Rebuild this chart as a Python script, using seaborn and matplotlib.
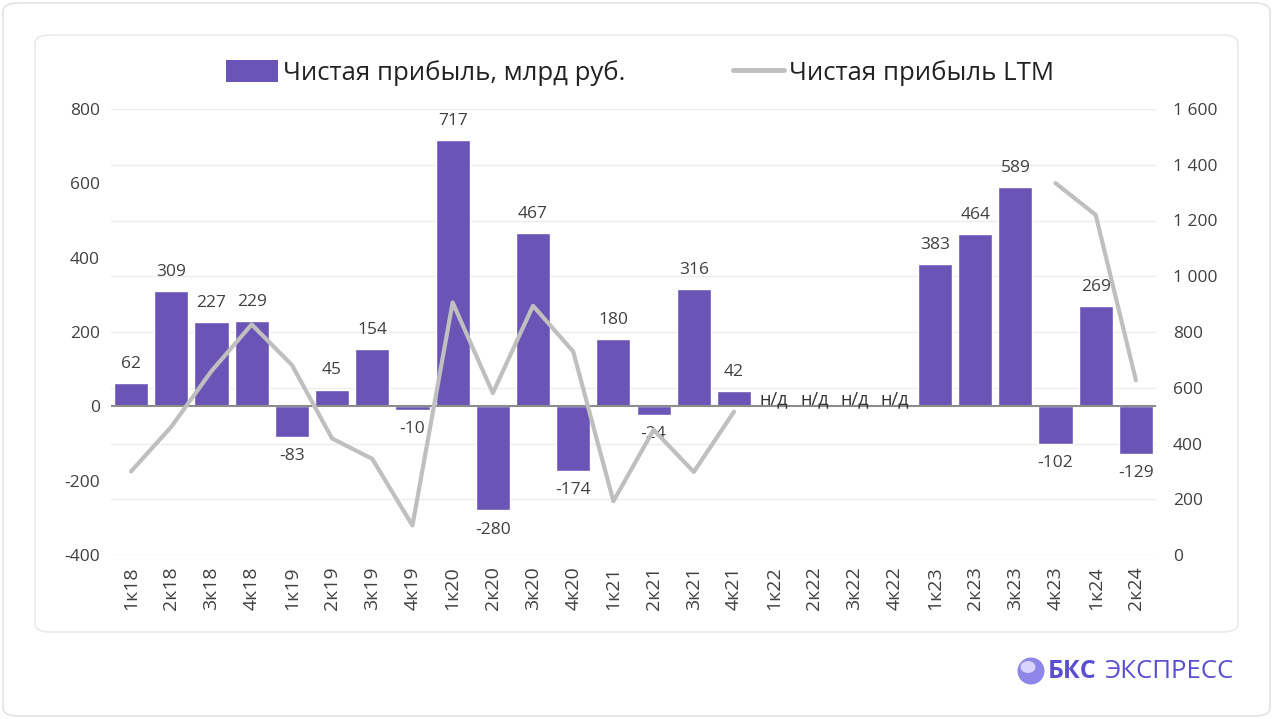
"""
Чистая прибыль: квартальная и LTM
"""

import numpy as np
import pandas as pd
import matplotlib
matplotlib.use("Agg")
import matplotlib.pyplot as plt
from matplotlib.patches import FancyBboxPatch, Ellipse
from matplotlib.lines import Line2D
from matplotlib.patches import Patch
import seaborn as sns


## DATA
quarters = ["1к18", "2к18", "3к18", "4к18", "1к19", "2к19", "3к19", "4к19",
            "1к20", "2к20", "3к20", "4к20", "1к21", "2к21", "3к21", "4к21",
            "1к22", "2к22", "3к22", "4к22", "1к23", "2к23", "3к23", "4к23",
            "1к24", "2к24"]
profit = [62, 309, 227, 229, -83, 45, 154, -10,
          717, -280, 467, -174, 180, -24, 316, 42,
          np.nan, np.nan, np.nan, np.nan, 383, 464, 589, -102,
          269, -129]
ltm = [300, 460, 660, 827, 682, 418, 345, 106,
       906, 581, 894, 730, 193, 449, 298, 514,
       np.nan, np.nan, np.nan, np.nan, np.nan, np.nan, np.nan, 1334,
       1220, 627]
left_ticks = [-400, -200, 0, 200, 400, 600, 800]
right_ticks = [0, 200, 400, 600, 800, 1000, 1200, 1400, 1600]

BAR = "#6A55B6"
LINE = "#BFBFBF"
TXT = "#404040"
FONT = ["Open Sans", "DejaVu Sans"]
W, H = 1273, 719


def fmt_space(v):
  return f"{v:,}".replace(",", " ")


def main():
  sns.set_style("white")
  plt.rcParams["font.family"] = FONT

  df = pd.DataFrame({"q": quarters, "profit": profit, "ltm": ltm})
  df["pos"] = np.arange(len(df))

  fig = plt.figure(figsize=(W / 100, H / 100), dpi=100)

  # background cards
  fig.patches.append(FancyBboxPatch((3 / W, 3 / H), 1267 / W, 713 / H,
                                    boxstyle="round,pad=0,rounding_size=0.012",
                                    transform=fig.transFigure, fc="white", ec="#E3E3E3", lw=1.2, zorder=-2))
  fig.patches.append(FancyBboxPatch((35 / W, 87 / H), 1203 / W, 597 / H,
                                    boxstyle="round,pad=0,rounding_size=0.012",
                                    transform=fig.transFigure, fc="white", ec="#EAEAEA", lw=1.2, zorder=-1))

  ax = fig.add_axes([111 / W, 1 - 555 / H, 1045 / W, 446 / H])
  ax.patch.set_alpha(0)

  sns.barplot(data=df, x="pos", y="profit", color=BAR, width=0.85,
              saturation=1, ax=ax, order=list(df["pos"]), zorder=3)

  ax.axhline(0, color="#8C8C8C", lw=1.5, zorder=4)
  ax.set_ylim(-400, 800)
  ax.set_yticks(left_ticks)
  ax.set_yticklabels([str(t) for t in left_ticks], fontsize=12.5, color=TXT)
  ax.set_xlim(-0.5, len(df) - 0.5)
  ax.set_xticks(df["pos"])
  ax.set_xticklabels(quarters, rotation=90, fontsize=14, color=TXT)
  ax.set_xlabel("")
  ax.set_ylabel("")
  ax.tick_params(axis="both", length=0, pad=8)
  for s in ax.spines.values():
    s.set_visible(False)

  # bar labels
  for p, v in zip(df["pos"], df["profit"]):
    if np.isnan(v):
      ax.text(p, 20, "н/д", ha="center", va="center", fontsize=13, color="#333333", zorder=5)
    elif v >= 0:
      ax.annotate(f"{int(v)}", (p, v), xytext=(0, 8), textcoords="offset points",
                  ha="center", va="bottom", fontsize=12.5, color=TXT)
    else:
      ax.annotate(f"{int(v)}", (p, v), xytext=(0, -8), textcoords="offset points",
                  ha="center", va="top", fontsize=12.5, color=TXT)

  # LTM on secondary axis
  ax2 = ax.twinx()
  df["seg"] = df["ltm"].isna().cumsum()
  line_df = df.dropna(subset=["ltm"])
  sns.lineplot(data=line_df, x="pos", y="ltm", units="seg", estimator=None,
               color=LINE, lw=3, ax=ax2, zorder=6)
  ax2.set_ylim(0, 1600)
  ax2.set_yticks(right_ticks)
  ax2.set_yticklabels([fmt_space(t) for t in right_ticks], fontsize=12.5, color=TXT)
  ax2.set_ylabel("")
  ax2.tick_params(axis="y", length=0, pad=12)
  for s in ax2.spines.values():
    s.set_visible(False)
  for t in right_ticks:
    ax.axhline(-400 + t * 1200 / 1600, color="#EDEDED", lw=1, zorder=0)
  ax.set_xlim(-0.5, len(df) - 0.5)

  # legend
  handles = [Patch(facecolor=BAR, edgecolor="none"),
             Line2D([0], [0], color=LINE, lw=3.5)]
  fig.legend(handles, ["Чистая прибыль, млрд руб.", "Чистая прибыль LTM"],
             loc="center", bbox_to_anchor=(0.503, 1 - 73 / H), ncol=2, frameon=False,
             fontsize=18.5, columnspacing=4.2, handlelength=2.0, handleheight=0.9,
             handletextpad=0.2, labelcolor="#222222")

  # logo
  fig.patches.append(Ellipse((1031 / W, 1 - 671 / H), 27 / W, 27 / H, transform=fig.transFigure,
                             fc="#8E86E8", ec="none"))
  fig.patches.append(Ellipse((1028 / W, 1 - 667 / H), 15 / W, 12 / H, transform=fig.transFigure,
                             fc="#D8D4FB", ec="none"))
  fig.text(1048 / W, 1 - 671 / H, "БКС", fontsize=18, fontweight="bold",
           color="#5A4FD0", va="center", ha="left")
  fig.text(1104 / W, 1 - 671 / H, "ЭКСПРЕСС", fontsize=18.5,
           color="#5A4FD0", va="center", ha="left")

  fig.savefig("out.png", dpi=100)


if __name__ == "__main__":
  main()
